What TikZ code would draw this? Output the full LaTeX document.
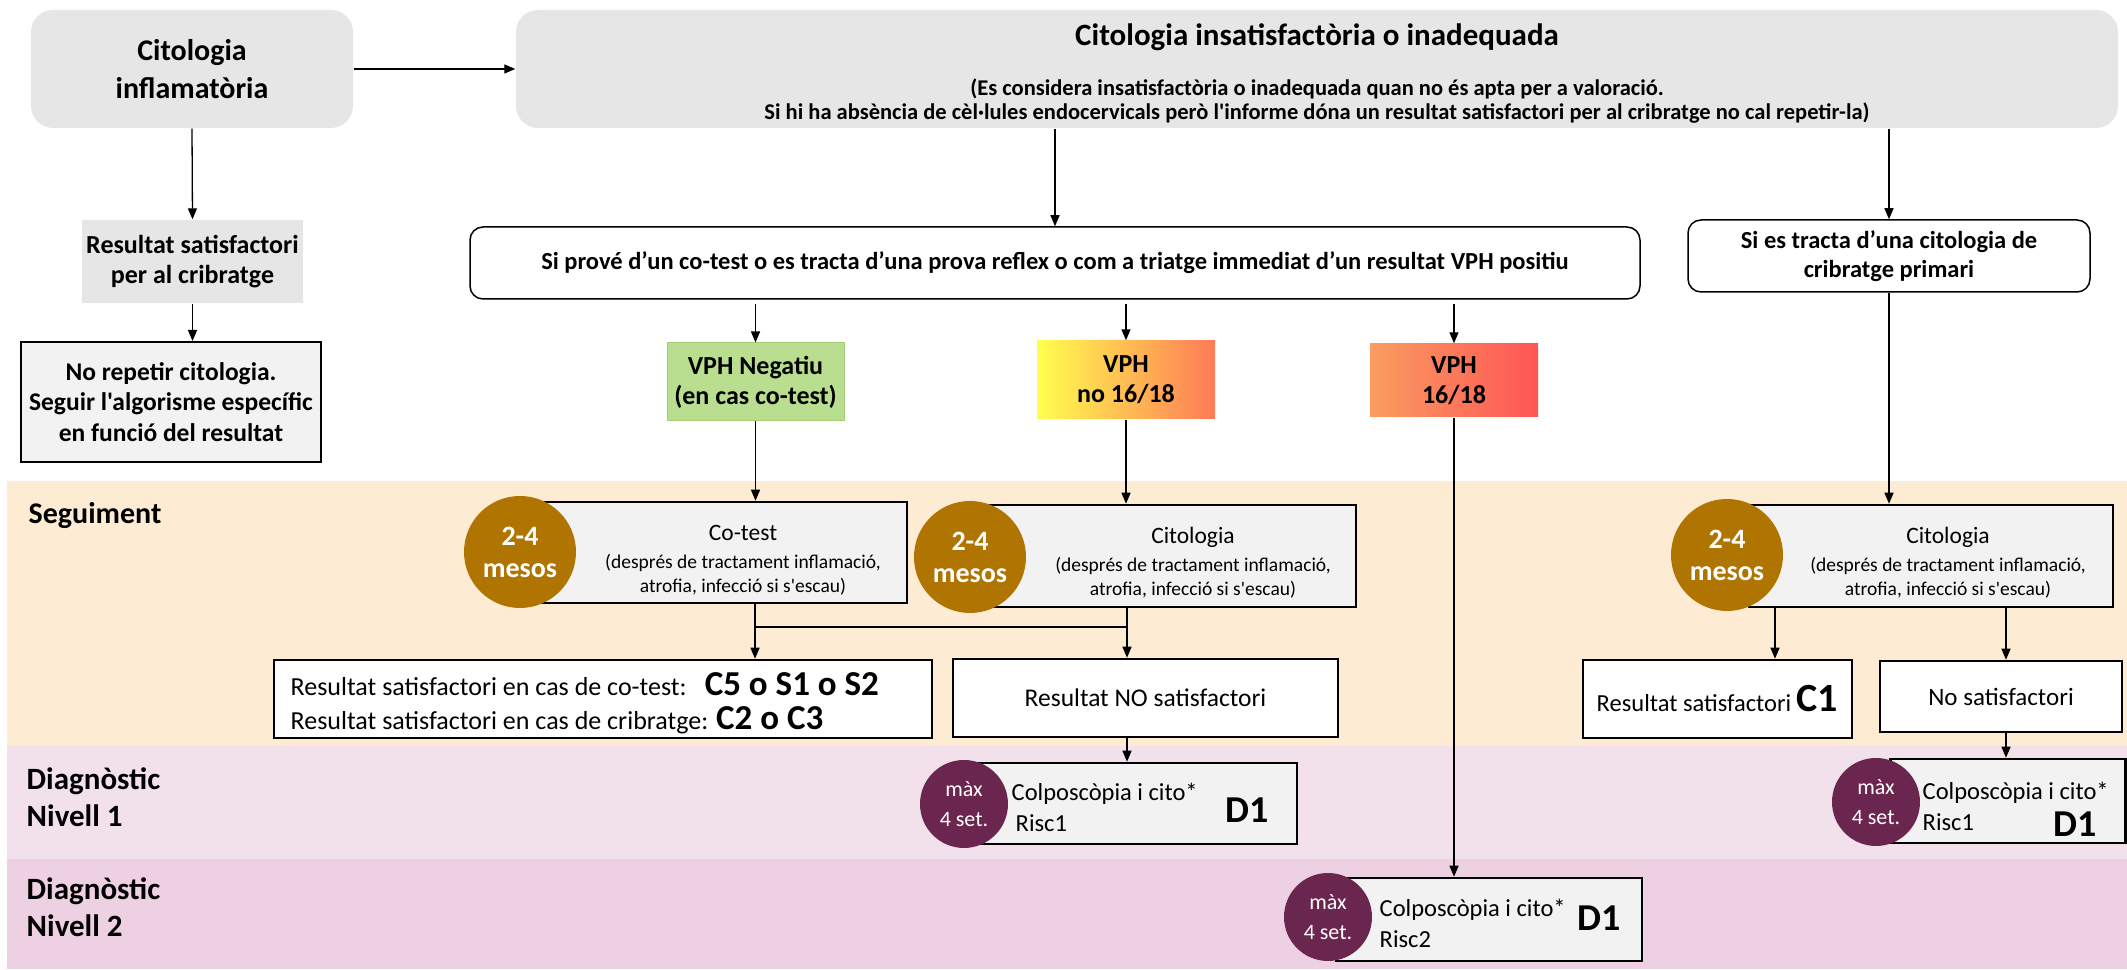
\documentclass[tikz,border=0pt]{standalone}
\usepackage{fontspec}
\setmainfont{Carlito}[Ligatures=TeXOff]
\usetikzlibrary{arrows.meta}
\newdimen\pxu \pxu=0.28453pt
\newcommand\fpx[2]{\fontsize{#1\pxu}{#2\pxu}\selectfont}

\definecolor{boxgray}{RGB}{230,230,230}
\definecolor{panelgray}{RGB}{242,242,242}
\definecolor{bandseg}{RGB}{253,236,211}
\definecolor{bandnone}{RGB}{242,225,235}
\definecolor{bandntwo}{RGB}{237,208,226}
\definecolor{mesosbrown}{RGB}{176,116,0}
\definecolor{setpurple}{RGB}{107,38,80}
\definecolor{vphgreen}{RGB}{185,222,143}
\definecolor{vphgreenedge}{RGB}{165,205,120}
\definecolor{gradyellow}{RGB}{255,255,77}
\definecolor{gradorange}{RGB}{255,122,88}
\definecolor{gradsalmon}{RGB}{250,156,96}
\definecolor{gradred}{RGB}{255,85,85}

\begin{document}
\begin{tikzpicture}[x=0.1mm,y=-0.1mm,
  sz/.style 2 args={minimum width=#1*0.1mm, minimum height=#2*0.1mm},
  band/.style={draw=none, inner sep=0, anchor=north west},
  graybox/.style={fill=boxgray, draw=none, inner sep=0, align=center},
  roundgray/.style={graybox, rounded corners=2.2mm},
  roundwhite/.style={fill=white, draw=black, line width=0.15mm, rounded corners=1.3mm, inner sep=0, align=center},
  panel/.style={fill=panelgray, draw=black, line width=0.25mm, inner sep=0, align=center},
  whitebox/.style={fill=white, draw=black, line width=0.25mm, inner sep=0, align=center},
  vphbox/.style={inner sep=0, align=center, font=\bfseries\fpx{26}{30}},
  mesos/.style={circle, fill=mesosbrown, inner sep=0, minimum size=11.2mm, text=white, align=center, font=\bfseries\fpx{28}{32}},
  setmax/.style={circle, fill=setpurple, inner sep=0, minimum size=8.8mm, text=white, align=center, font=\fpx{22}{30}},
  txt/.style={inner sep=0, text height=0.62em, text depth=0pt},
  conn/.style={line width=0.13mm},
  arr/.style={conn, -{Triangle[length=1.1mm,width=0.9mm]}}
]
\useasboundingbox (0,0) rectangle (2127,970);

% ---------- background bands ----------
\node[band, fill=bandseg, sz={2121}{265}] (segband) at (6,480) {};
\node[band, fill=bandnone, sz={2121}{113}] (nonaband) at (6,745) {};
\node[band, fill=bandntwo, sz={2121}{110}] (ntwoband) at (6,858) {};

\node[txt, anchor=west, font=\bfseries\fpx{30}{36}] (seglbl) at (28,513) {Seguiment};
\node[inner sep=0, anchor=west, align=left, font=\bfseries\fpx{31}{37}] (nonalbl) at (26,797) {Diagnòstic\\Nivell 1};
\node[inner sep=0, anchor=west, align=left, font=\bfseries\fpx{31}{37}] (ntwolbl) at (26,907) {Diagnòstic\\Nivell 2};

% ---------- top row ----------
\node[roundgray, sz={322}{118}, font=\bfseries\fpx{30}{38}] (infl) at (192,69) {Citologia\\inflamatòria};
\node[roundgray, sz={1602}{118}] (insat) at (1317,69) {};
\node[txt, font=\bfseries\fpx{31}{36}] (insattitle) at (1317,35) {Citologia insatisfactòria o inadequada};
\node[txt, font=\bfseries\fpx{22.5}{24}] (insatnoteA) at (1317,85) {(Es considera insatisfactòria o inadequada quan no és apta per a valoració.};
\node[txt, font=\bfseries\fpx{22.5}{24}] (insatnoteB) at (1317,109) {Si hi ha absència de cèl·lules endocervicals però l'informe dóna un resultat satisfactori per al cribratge no cal repetir-la)};

% ---------- left column ----------
\node[graybox, sz={221}{83}, font=\bfseries\fpx{26}{30}] (satcrib) at (192.5,261.5) {Resultat satisfactori\\per al cribratge};
\node[panel, line width=0.2mm, sz={300}{120}, font=\bfseries\fpx{25.5}{30.5}] (norep) at (171,402) {No repetir citologia.\\Seguir l'algorisme específic\\en funció del resultat};

% ---------- second row ----------
\node[roundwhite, sz={1170}{72}, font=\bfseries\fpx{24.5}{27}] (cotestq) at (1055,263) {Si prové d’un co-test o es tracta d’una prova reflex o com a triatge immediat d’un resultat VPH positiu};
\node[roundwhite, sz={402}{72}, font=\bfseries\fpx{24.5}{29}] (primari) at (1889,256) {Si es tracta d’una citologia de\\cribratge primari};

\node[vphbox, fill=vphgreen, draw=vphgreenedge, line width=0.1mm, sz={177}{78}] (vphneg) at (755.5,382) {VPH Negatiu\\(en cas co-test)};
\node[vphbox, left color=gradyellow, right color=gradorange, sz={178}{78}] (vphno) at (1126,380) {VPH\\no 16/18};
\node[vphbox, left color=gradsalmon, right color=gradred, sz={168}{73}] (vphyes) at (1454,380.5) {VPH\\16/18};

% ---------- seguiment ----------
\node[panel, sz={367}{101}] (cotest) at (723.5,552.5) {};
\node[mesos] (cotestc) at (520,552) {2-4\\mesos};
\node[txt, font=\fpx{23.5}{28}] (cotestA) at (743,530) {Co-test};
\node[txt, font=\fpx{19.5}{24}] (cotestB) at (743,558) {(després de tractament inflamació,};
\node[txt, font=\fpx{19.5}{24}] (cotestC) at (743,582) {atrofia, infecció si s'escau)};

\node[panel, sz={366}{102}] (citoK) at (1173,556) {};
\node[mesos] (citoKc) at (970,557) {2-4\\mesos};
\node[txt, font=\fpx{23.5}{28}] (citoKA) at (1193,533) {Citologia};
\node[txt, font=\fpx{19.5}{24}] (citoKB) at (1193,561) {(després de tractament inflamació,};
\node[txt, font=\fpx{19.5}{24}] (citoKC) at (1193,585) {atrofia, infecció si s'escau)};

\node[panel, sz={364}{102}] (citoN) at (1931,556) {};
\node[mesos] (citoNc) at (1727,555) {2-4\\mesos};
\node[txt, font=\fpx{23.5}{28}] (citoNA) at (1948,533) {Citologia};
\node[txt, font=\fpx{19.5}{24}] (citoNB) at (1948,561) {(després de tractament inflamació,};
\node[txt, font=\fpx{19.5}{24}] (citoNC) at (1948,585) {atrofia, infecció si s'escau)};

\node[whitebox, sz={658}{78}] (satres) at (603,699) {};
\node[txt, anchor=west, font=\fpx{26}{28}] (satresA) at (290,685) {Resultat satisfactori en cas de co-test:\hspace{0.7em}{\bfseries\fpx{35}{36}C5 o S1 o S2}};
\node[txt, anchor=west, font=\fpx{26}{28}] (satresB) at (290,719) {Resultat satisfactori en cas de cribratge: {\bfseries\fpx{35}{36}C2 o C3}};

\node[whitebox, sz={385}{78}, font=\fpx{25.5}{28}] (nosat) at (1145.5,698) {Resultat NO satisfactori};
\node[whitebox, sz={269}{78}, font=\fpx{24.5}{28}] (satC) at (1717.5,699) {Resultat satisfactori {\bfseries\fpx{40}{40}C1}};
\node[whitebox, sz={242}{71}, font=\fpx{25}{28}] (nosatP) at (2001,696.5) {No satisfactori};

% ---------- diagnostic boxes ----------
\node[panel, sz={320}{81}] (diagQ) at (1137,803.5) {};
\node[setmax] (diagQc) at (964,804) {màx\\4 set.};
\node[txt, anchor=west, font=\fpx{24.5}{28}] (diagQA) at (1011,790) {Colposcòpia i cito*};
\node[txt, anchor=west, font=\fpx{24.5}{28}] (diagQB) at (1015,821) {Risc1};
\node[txt, font=\bfseries\fpx{38}{40}] (diagQD) at (1247,812) {D1};

\node[panel, sz={235}{84}] (diagR) at (2008,801) {};
\node[setmax] (diagRc) at (1876,802) {màx\\4 set.};
\node[txt, anchor=west, font=\fpx{24.5}{28}] (diagRA) at (1922,789) {Colposcòpia i cito*};
\node[txt, anchor=west, font=\fpx{24.5}{28}] (diagRB) at (1922,820) {Risc1};
\node[txt, font=\bfseries\fpx{38}{40}] (diagRD) at (2075,826) {D1};

\node[panel, sz={306}{83}] (diagS) at (1489,919.5) {};
\node[setmax] (diagSc) at (1328,917) {màx\\4 set.};
\node[txt, anchor=west, font=\fpx{24.5}{28}] (diagSA) at (1379,906) {Colposcòpia i cito*};
\node[txt, anchor=west, font=\fpx{24.5}{28}] (diagSB) at (1379,937) {Risc2};
\node[txt, font=\bfseries\fpx{38}{40}] (diagSD) at (1599,920) {D1};

% ---------- connectors ----------
\coordinate (jx) at (755,627);
\coordinate (kx) at (1127,627);
\coordinate (nox) at (1775,630);
\coordinate (npx) at (2006,630);

\draw[arr] (infl.east) -- (insat.west);
\draw[arr] (infl.south) -- (satcrib.north);
\draw[arr] (satcrib.south) -- (satcrib.south |- norep.north);
\draw[arr] (insat.south -| cotestq.north) -- (cotestq.north);
\draw[arr] (insat.south -| primari.north) -- (primari.north);

\draw[arr] ([yshift=-0.4mm]cotestq.south -| vphneg.north) -- (vphneg.north);
\draw[arr] ([yshift=-0.4mm]cotestq.south -| vphno.north) -- (vphno.north);
\draw[arr] ([yshift=-0.4mm]cotestq.south -| vphyes.north) -- (vphyes.north);

\draw[arr] (vphneg.south) -- (vphneg.south |- cotest.north);
\draw[arr] (vphno.south) -- (vphno.south |- citoK.north);
\draw[arr] (primari.south) -- (primari.south |- citoN.north);
\draw[arr] (vphyes.south) -- (vphyes.south |- diagS.north);

\draw[arr] (cotest.south -| jx) -- (jx |- satres.north);
\draw[arr] (citoK.south -| kx) -- (kx |- nosat.north);
\draw[conn] (jx) -- (kx);
\draw[arr] (citoN.south -| nox) -- (nox |- satC.north);
\draw[arr] (citoN.south -| npx) -- (npx |- nosatP.north);

\draw[arr] (nosat.south -| kx) -- (kx |- diagQ.north);
\draw[arr] (nosatP.south -| npx) -- (npx |- diagR.north);
\end{tikzpicture}
\end{document}
